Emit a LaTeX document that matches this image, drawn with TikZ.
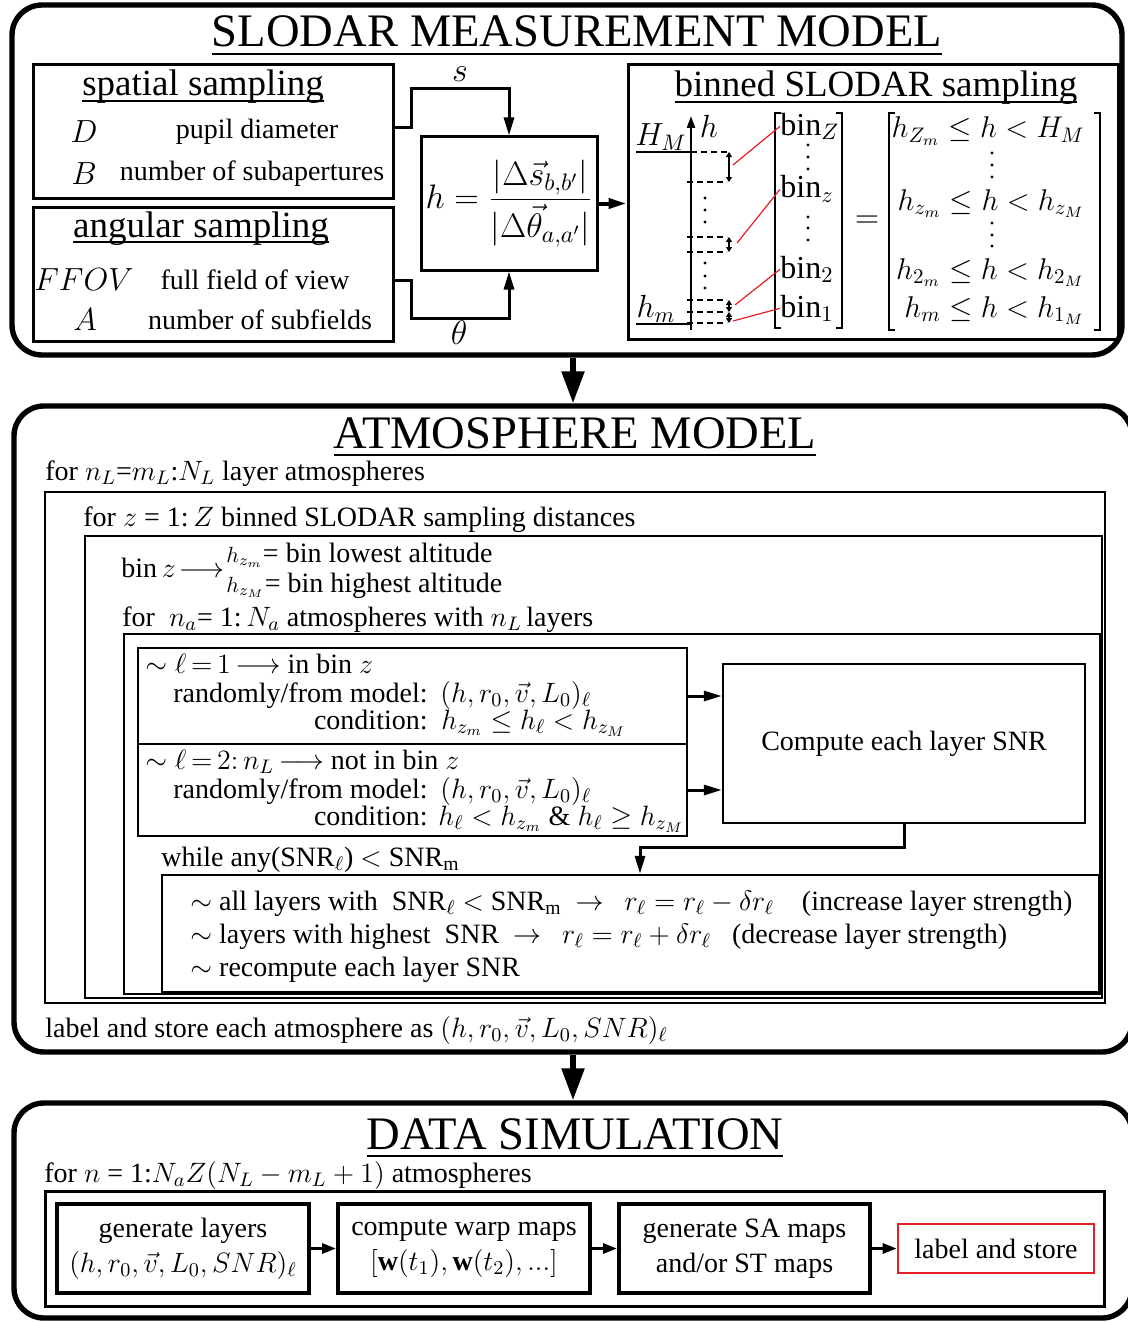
\RequirePackage{fix-cm}
\documentclass[tikz,border=0pt]{standalone}
\usepackage{amsmath}
\usepackage{fontspec}
\setmainfont{Liberation Serif}
\usetikzlibrary{arrows.meta, positioning, calc}

\definecolor{boxred}{RGB}{228,30,38}
\newcommand{\ttlsize}{\fontsize{23.3}{26}\selectfont}
\newcommand{\subsize}{\fontsize{18.5}{21}\selectfont}
\newcommand{\txtsize}{\fontsize{14}{17.5}\selectfont}
\newcommand{\mthsize}{\fontsize{16}{19}\selectfont}

\tikzset{
  sect/.style={draw, line width=2.7pt, rounded corners=15pt, inner sep=0pt},
  inbox/.style={draw, line width=1.5pt, inner sep=0pt},
  loopbox/.style={draw, line width=1.2pt, inner sep=0pt},
  simbox/.style={draw, line width=2pt, inner sep=0pt, align=center, font=\txtsize},
  txt/.style={font=\txtsize, inner sep=0pt},
  tight/.style={txt, text height=9pt, text depth=3pt},
  mth/.style={font=\mthsize, inner sep=0pt},
  arr/.style={line width=1.5pt, -{Triangle[length=9pt,width=5pt]}},
  bigarr/.style={line width=2.7pt, -{Triangle[length=16pt,width=11pt]}},
  dashln/.style={line width=1pt, dash pattern=on 3pt off 2pt},
  dblarr/.style={line width=0.9pt, {Triangle[length=2.5pt,width=3pt]}-{Triangle[length=2.5pt,width=3pt]}},
  brk/.style={line width=0.8pt},
  redln/.style={boxred, line width=0.6pt},
}

\begin{document}
\begin{tikzpicture}[x=0.5pt,y=-0.5pt]
\useasboundingbox (0,0) rectangle (1128,1322);

% SLODAR measurement model
\node[sect, minimum width=555pt, minimum height=175pt] (meas) at (567,180) {};
\node[font=\ttlsize, anchor=base] (measttl) at (577,47) {\underline{SLODAR MEASUREMENT MODEL}};

\node[inbox, minimum width=180pt, minimum height=66.5pt] (spat) at (213,131.5) {};
\node[font=\subsize, anchor=base] (spatttl) at (203,96) {\underline{\smash{spatial sampling}}};
\node[mth] (Dsym) at (84,132) {$D$};
\node[txt] (Dtxt) at (257,132) {pupil diameter};
\node[mth] (Bsym) at (84,174) {$B$};
\node[txt] (Btxt) at (252,174) {number of subapertures};

\node[inbox, minimum width=180pt, minimum height=67pt] (ang) at (213,274) {};
\node[font=\subsize, anchor=base] (angttl) at (201,237) {\underline{\smash{angular sampling}}};
\node[mth] (Fsym) at (84,280) {$FFOV$};
\node[txt] (Ftxt) at (255,280) {full field of view};
\node[mth] (Asym) at (85,320) {$A$};
\node[txt] (Atxt) at (260,320) {number of subfields};

\node[inbox, minimum width=88pt, minimum height=66.5pt, font=\fontsize{17}{20}\selectfont] (hform) at (509,203.5)
  {$h=\dfrac{|\Delta\vec{s}_{b,b'}|}{|\Delta\vec{\theta}_{a,a'}|}$};

\coordinate (sbend) at (411,89);
\coordinate (tbend) at (411,318);
\draw[arr] ([yshift=1.75pt]spat.east) -| (sbend) -| (hform.north);
\draw[arr] ([yshift=-3pt]ang.east) -| (tbend) -| (hform.south);
\node[font=\fontsize{17}{20}\selectfont] (slab) at (460,74) {$s$};
\node[font=\fontsize{17}{20}\selectfont] (tlab) at (459,333) {$\theta$};

\node[inbox, minimum width=245pt, minimum height=137pt] (binned) at (873,202) {};
\node[font=\subsize, anchor=base] (binttl) at (876,97) {\underline{\smash{binned SLODAR sampling}}};
\draw[arr, line width=2pt] (hform.east) -- (hform.east -| binned.west);

% altitude axis and bins
\draw[line width=1.2pt, -{Triangle[length=6pt,width=4pt]}] (691,330) -- (691,116);
\node[mth] (hax) at (709,126) {$h$};
\node[mth] (HMlab) at (661,137) {$H_M$};
\node[mth] (hmlab) at (656,309) {$h_m$};
\draw[line width=1.2pt] (636,152) -- (691,152);
\draw[line width=1.2pt] (636,324) -- (691,324);
\foreach \yy/\xs in {152/691, 182/687, 237/687, 252/687, 300/687, 312/687, 323/687}
  \draw[dashln] (\xs,\yy) -- (727,\yy);
\foreach \ya/\yb in {152/182, 237/252, 300/312, 312/323}
  \draw[dblarr] (729,\ya) -- (729,\yb);
\foreach \yy in {198,210,222,263,276,288}
  \fill (705,\yy) circle (0.8pt);

% bins = ranges
\draw[brk] (781,113) -| (775,328) -- (781,328);
\draw[brk] (836,113) -| (842,328) -- (836,328);
\node[mth, anchor=base west] (binZ) at (780,135) {$\mathrm{bin}_Z$};
\node[mth, anchor=base west] (binz) at (780,198) {$\mathrm{bin}_z$};
\node[mth, anchor=base west] (bin2) at (780,278) {$\mathrm{bin}_2$};
\node[mth, anchor=base west] (bin1) at (780,317) {$\mathrm{bin}_1$};
\foreach \yy in {145,157,169,217,228,240}
  \fill (808,\yy) circle (0.8pt);
\draw[redln] (733,165) -- (binZ.west);
\draw[redln] (737,243) -- (binz.west);
\draw[redln] (735,305) -- (bin2.west);
\draw[redln] (733,321) -- (bin1.west);
\node[mth] (eqsgn) at (867,222) {$=$};
\draw[brk] (895,113) -| (889,330) -- (895,330);
\draw[brk] (1094,113) -| (1100,330) -- (1094,330);
\node[mth, font=\fontsize{15}{18}\selectfont, anchor=base east] (rng1) at (1085,138) {$h_{Z_m}\leq h<H_M$};
\node[mth, font=\fontsize{15}{18}\selectfont, anchor=base east] (rng2) at (1085,210) {$h_{z_m}\leq h<h_{z_M}$};
\node[mth, font=\fontsize{15}{18}\selectfont, anchor=base east] (rng3) at (1085,279) {$h_{2_m}\leq h<h_{2_M}$};
\node[mth, font=\fontsize{15}{18}\selectfont, anchor=base east] (rng4) at (1085,317) {$h_m\leq h<h_{1_M}$};
\foreach \yy in {153,165,177,223,235,246}
  \fill (992,\yy) circle (0.8pt);

% atmosphere model
\node[sect, minimum width=559pt, minimum height=323pt] (atm) at (573,729) {};
\draw[bigarr] (meas.south -| atm.north) -- (atm.north);
\node[font=\ttlsize, anchor=base] (atmttl) at (575,448) {\underline{ATMOSPHERE MODEL}};
\node[txt, anchor=base west] (forL) at (45,480) {for $n_L$=$m_L$:$N_L$ layer atmospheres};
\node[loopbox, minimum width=530pt, minimum height=255.5pt] (lpL) at (575,747.5) {};
\node[txt, anchor=base west] (forz) at (83,526) {for $z$ = 1:\,$Z$ binned SLODAR sampling distances};
\node[loopbox, minimum width=508.5pt, minimum height=231pt] (lpz) at (593.5,767) {};
\node[txt, anchor=base west] (binarr) at (121,577) {bin\,$z\!\longrightarrow$};
\node[txt, anchor=base west] (binlo) at (226,562) {{\fontsize{11}{13}\selectfont$h_{z_m}$}= bin lowest altitude};
\node[txt, anchor=base west] (binhi) at (226,592) {{\fontsize{11}{13}\selectfont$h_{z_M}$}= bin highest altitude};
\node[txt, anchor=base west] (fora) at (122,626) {for\ \ $n_a$= 1:\,$N_a$ atmospheres with $n_L$\,layers};
\node[loopbox, minimum width=488pt, minimum height=180pt] (lpa) at (612,814) {};

\node[loopbox, minimum width=274.5pt, minimum height=48pt] (lyrA) at (412.5,696) {};
\node[loopbox, minimum width=274.5pt, minimum height=46pt] (lyrB) at (412.5,790) {};
\node[tight, anchor=base west] (lyrAhd) at (145,673) {$\sim\ell\,{=}\,1\,{\longrightarrow}$ in bin $z$};
\node[tight, anchor=base east] (lyrAm) at (428,702) {randomly/from model:};
\node[tight, anchor=base west] (lyrAmv) at (440,702) {$(h,r_0,\vec{v},L_0)_\ell$};
\node[tight, anchor=base east] (lyrAc) at (428,729) {condition:};
\node[tight, anchor=base west] (lyrAcv) at (441,729) {$h_{z_m}\leq h_\ell<h_{z_M}$};
\node[tight, anchor=base west] (lyrBhd) at (145,769) {$\sim\ell\,{=}\,2{:}\,n_L\,{\longrightarrow}$ not in bin $z$};
\node[tight, anchor=base east] (lyrBm) at (428,798) {randomly/from model:};
\node[tight, anchor=base west] (lyrBmv) at (440,798) {$(h,r_0,\vec{v},L_0)_\ell$};
\node[tight, anchor=base east] (lyrBc) at (428,825) {condition:};
\node[tight, anchor=base west] (lyrBcv) at (438,825) {$h_\ell<h_{z_m}$ \& $h_\ell\geq h_{z_M}$};

\node[loopbox, minimum width=181pt, minimum height=79.5pt, font=\txtsize] (comp) at (904,743.5) {Compute each layer SNR};
\draw[arr] (lyrA.east) -- (lyrA.east -| comp.west);
\draw[arr] (lyrB.east) -- (lyrB.east -| comp.west);

\node[txt, anchor=base west] (whl) at (161,866) {while any(SNR$_\ell$) $<$ SNR$_\mathrm{m}$};
\node[loopbox, minimum width=468.5pt, minimum height=58.5pt] (loop) at (630.5,933.5) {};
\coordinate (wbend) at (640,847);
\draw[arr] (comp.south) |- (wbend) -- (wbend |- loop.north);
\node[tight, anchor=base west] (stp1) at (190,910) {$\sim$ all layers with\ \ SNR$_\ell$ $<$ SNR$_\mathrm{m}$\ \ $\rightarrow$\ \ \ $r_\ell=r_\ell-\delta r_\ell$\quad(increase layer strength)};
\node[tight, anchor=base west] (stp2) at (190,943) {$\sim$ layers with highest\ \ SNR\ \ $\rightarrow$\ \ \ $r_\ell=r_\ell+\delta r_\ell$\ \ \ (decrease layer strength)};
\node[tight, anchor=base west] (stp3) at (190,976) {$\sim$ recompute each layer SNR};
\node[txt, anchor=base west] (store) at (45,1037) {label and store each atmosphere as $(h,r_0,\vec{v},L_0,SNR)_\ell$};

% data simulation
\node[sect, minimum width=559pt, minimum height=107.5pt] (sim) at (573,1210.5) {};
\draw[bigarr] (atm.south) -- (sim.north);
\node[font=\ttlsize, anchor=base] (simttl) at (575,1149) {\underline{DATA SIMULATION}};
\node[txt, anchor=base west] (forn) at (44,1182) {for $n$ = 1:$N_aZ(N_L-m_L+1)$ atmospheres};
\node[inbox, minimum width=529.5pt, minimum height=57.5pt] (simloop) at (574.5,1248.5) {};
\node[simbox, minimum width=126pt, minimum height=44.5pt] (genl) at (183,1248.5) {generate layers\\$(h,r_0,\vec{v},L_0,SNR)_\ell$};
\node[simbox, minimum width=126pt, minimum height=44.5pt] (warp) at (464,1248.5) {compute warp maps\\$[\mathbf{w}(t_1),\mathbf{w}(t_2),...]$};
\node[simbox, minimum width=125.5pt, minimum height=44.5pt] (gmap) at (744.5,1248.5) {generate SA maps\\and/or ST maps};
\node[simbox, draw=boxred, line width=1.3pt, minimum width=98pt, minimum height=24.5pt] (lbl) at (996,1248.5) {label and store};
\draw[arr, -{Triangle[length=7pt,width=5pt]}] (genl) -- (warp);
\draw[arr, -{Triangle[length=7pt,width=5pt]}] (warp) -- (gmap);
\draw[arr, -{Triangle[length=7pt,width=5pt]}] (gmap) -- (lbl);
\end{tikzpicture}
\end{document}
